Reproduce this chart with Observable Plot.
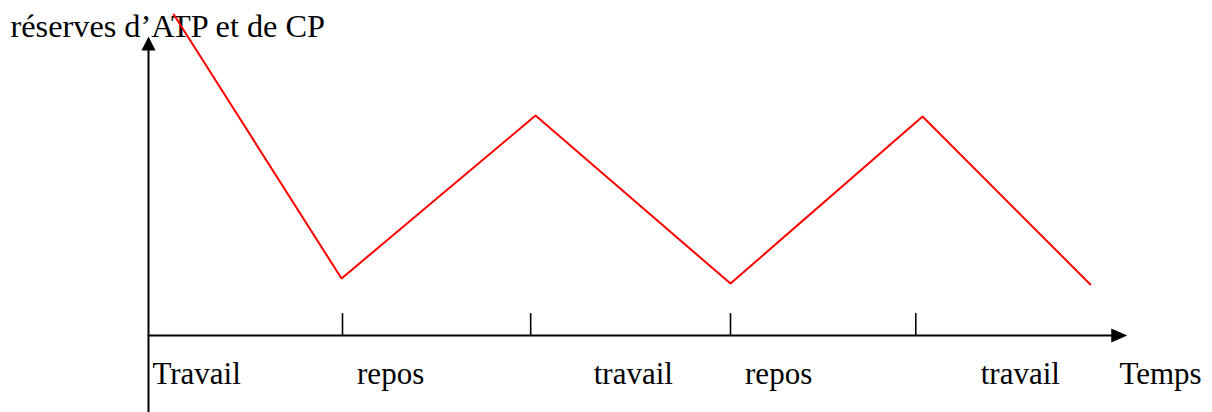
<!DOCTYPE html>
<html>
<head>
<meta charset="utf-8">
<script src="https://cdn.jsdelivr.net/npm/d3@7"></script>
<script src="https://cdn.jsdelivr.net/npm/@observablehq/plot@0.6"></script>
<style>
  html, body { margin: 0; padding: 0; background: #fff; }
  #chart svg { display: block; }
</style>
</head>
<body>
<div id="chart"></div>
<script>
// ---- data (time in arbitrary units, reserves in arbitrary units)
const yTitle = "réserves d’ATP et de CP";
const xTitle = "Temps";
const phaseLabels = ["Travail", "repos", "travail", "repos", "travail"];
const phaseLabelTime = [0.04, 2.15, 4.59, 6.15, 8.58];
const phaseTicks = [2.0, 3.94, 6.0, 7.91];
const curveTime = [0.26, 1.99, 3.99, 6.0, 7.98, 9.71];
const curveReserve = [107, 19, 73.3, 17.3, 73, 17];
const timeAxisEnd = 10.09;      // arrow tip on time axis
const reserveAxisTop = 99.7;    // arrow tip on reserve axis
const reserveAxisBottom = -26;  // axis continues below the time axis
const tickLength = 7.3;
const labelLevel = -12.7;
const timeTitleAt = 10.01;

// ---- tables built from the arrays
const curve = curveTime.map((t, i) => ({t, r: curveReserve[i]}));
const labels = phaseLabels.map((name, i) => ({name, t: phaseLabelTime[i]}));
const ticks = phaseTicks.map(t => ({t}));

const arrowHead = (len, half) => ({
  draw(ctx) {
    ctx.moveTo(0, 0);
    ctx.lineTo(half, len);
    ctx.lineTo(-half, len);
    ctx.closePath();
  }
});

const font = "'Liberation Serif', 'Times New Roman', serif";
const fs = 31;
const titleFs = 32.3;

const chart = Plot.plot({
  width: 1212,
  height: 412,
  margin: 0,
  x: {type: "linear", domain: [0, 10], range: [148, 1118], axis: null},
  y: {type: "linear", domain: [0, 100], range: [335, 35], axis: null},
  style: {background: "#fff", fontFamily: font, fontSize: fs + "px", color: "#000", overflow: "visible"},
  marks: [
    // title of the vertical axis
    Plot.text([yTitle], {frameAnchor: "top-left", textAnchor: "start", lineAnchor: "top",
      dx: 10, dy: 14, fontSize: titleFs, fill: "#000"}),
    // axes
    Plot.line([{t: 0, r: reserveAxisBottom}, {t: 0, r: reserveAxisTop - 4.5}], {x: "t", y: "r", stroke: "#000", strokeWidth: 2}),
    Plot.line([{t: 0, r: 0}, {t: timeAxisEnd - 0.15, r: 0}], {x: "t", y: "r", stroke: "#000", strokeWidth: 2}),
    Plot.dot([{t: 0, r: reserveAxisTop}], {x: "t", y: "r", symbol: arrowHead(14, 7), fill: "#000", stroke: "none"}),
    Plot.dot([{t: timeAxisEnd, r: 0}], {x: "t", y: "r", symbol: arrowHead(16, 7), rotate: 90, fill: "#000", stroke: "none"}),
    // phase separators
    Plot.ruleX(ticks, {x: "t", y1: 0, y2: tickLength, stroke: "#000", strokeWidth: 1.6}),
    // labels
    Plot.text(labels, {x: "t", y: labelLevel, text: "name", textAnchor: "start", fontSize: fs, fill: "#000"}),
    Plot.text([xTitle], {x: timeTitleAt, y: labelLevel, textAnchor: "start", fontSize: fs, fill: "#000"}),
    // reserves curve
    Plot.line(curve, {x: "t", y: "r", stroke: "#ff0000", strokeWidth: 2, strokeLinejoin: "miter"})
  ]
});
document.getElementById("chart").appendChild(chart);
</script>
</body>
</html>
